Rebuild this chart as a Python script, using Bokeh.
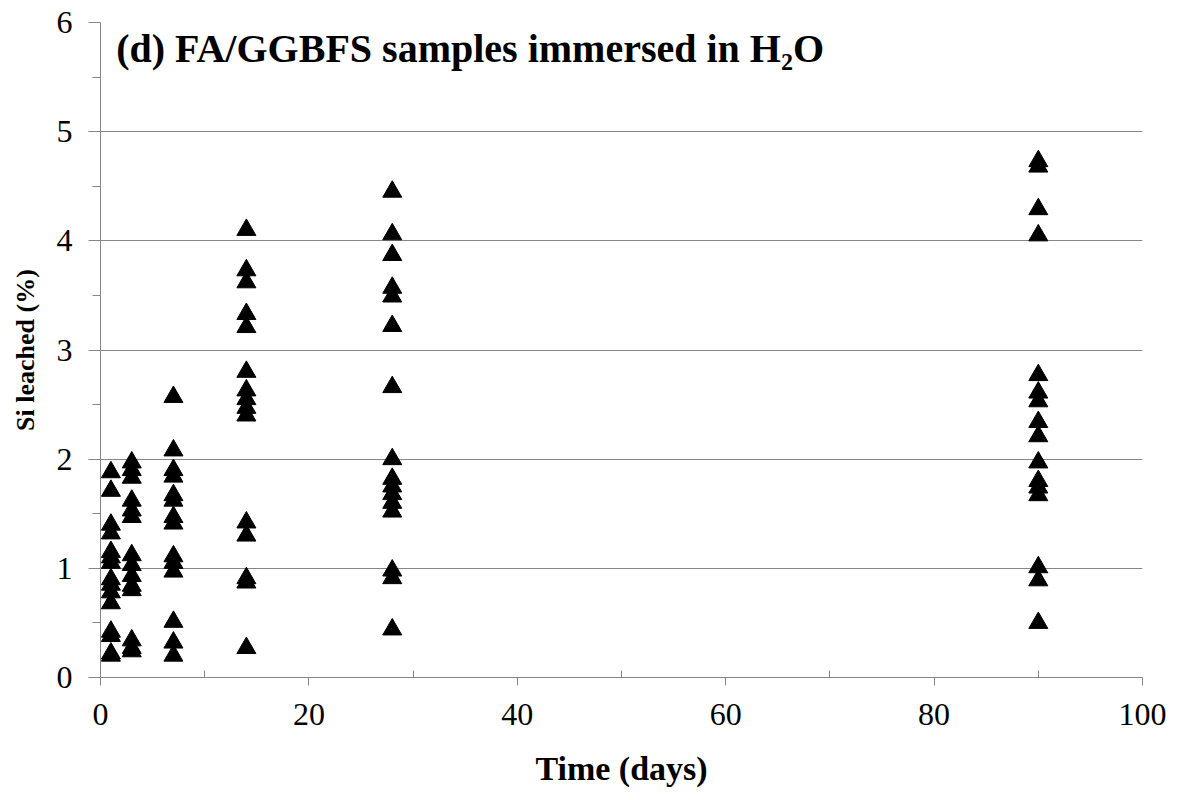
from bokeh.plotting import figure
from bokeh.models import Range1d, Label, FixedTicker
from bokeh.embed import file_html
from bokeh.resources import INLINE

days_1 = [1.88, 1.71, 1.40, 1.32, 1.15, 1.10, 1.05, 0.90, 0.85, 0.78, 0.68, 0.42, 0.38, 0.22, 0.20]
days_3 = [1.97, 1.90, 1.83, 1.62, 1.53, 1.47, 1.12, 1.03, 0.93, 0.84, 0.80, 0.34, 0.27, 0.24]
days_7 = [2.57, 2.08, 1.90, 1.84, 1.67, 1.62, 1.47, 1.41, 1.11, 1.05, 0.97, 0.51, 0.32, 0.20]
days_14 = [4.10, 3.73, 3.62, 3.33, 3.21, 2.80, 2.63, 2.55, 2.47, 2.40, 1.42, 1.30, 0.91, 0.87, 0.27]
days_28 = [4.45, 4.06, 3.87, 3.57, 3.49, 3.22, 2.66, 2.00, 1.82, 1.75, 1.68, 1.60, 1.52, 0.98, 0.91, 0.44]
days_90 = [4.73, 4.68, 4.29, 4.05, 2.77, 2.61, 2.53, 2.34, 2.21, 1.97, 1.80, 1.74, 1.67, 1.01, 0.89, 0.50]
times = [1, 3, 7, 14, 28, 90]
title_text = "(d) FA/GGBFS samples immersed in H\u2082O"
x_title = "Time (days)"
y_title = "Si leached (%)"

xs, ys = [], []
for t, vals in zip(times, [days_1, days_3, days_7, days_14, days_28, days_90]):
    xs += [t] * len(vals)
    ys += vals

FONT = "Liberation Serif"
GRAY = "#868686"

p = figure(width=1177, height=800, output_backend="svg", toolbar_location=None,
           x_range=Range1d(0, 100), y_range=Range1d(0, 6),
           min_border_left=100, min_border_right=35, min_border_top=22, min_border_bottom=123)
p.outline_line_color = None
p.background_fill_color = "white"

p.scatter(xs, ys, marker="triangle", size=19, fill_color="black", line_color="black")

p.xaxis.ticker = FixedTicker(ticks=[0, 20, 40, 60, 80, 100], minor_ticks=[10, 30, 50, 70, 90])
p.yaxis.ticker = FixedTicker(ticks=[0, 1, 2, 3, 4, 5, 6], minor_ticks=[0.5, 1.5, 2.5, 3.5, 4.5, 5.5])
p.xgrid.grid_line_color = None
p.ygrid.grid_line_color = GRAY
p.ygrid.grid_line_width = 1

for ax in (p.xaxis, p.yaxis):
    ax.axis_line_color = GRAY
    ax.major_tick_line_color = GRAY
    ax.minor_tick_line_color = GRAY
    ax.major_label_text_font = FONT
    ax.major_label_text_font_size = "32px"
    ax.major_label_text_color = "black"
    ax.axis_label_text_font = FONT
    ax.axis_label_text_font_style = "bold"
    ax.axis_label_text_color = "black"

p.xaxis.major_tick_out = 8
p.xaxis.major_tick_in = 0
p.xaxis.minor_tick_in = 7
p.xaxis.minor_tick_out = 0
p.xaxis.major_label_standoff = 18
p.xaxis.axis_label = x_title
p.xaxis.axis_label_standoff = 22
p.xaxis.axis_label_text_font_size = "34px"

p.yaxis.major_tick_out = 12
p.yaxis.major_tick_in = 0
p.yaxis.minor_tick_out = 8
p.yaxis.minor_tick_in = 0
p.yaxis.major_label_standoff = 16
p.yaxis.axis_label = y_title
p.yaxis.axis_label_standoff = 14
p.yaxis.axis_label_text_font_size = "26px"

p.add_layout(Label(x=1.5, y=5.76, text=title_text, text_font=FONT, text_font_style="bold",
                   text_font_size="40px", text_baseline="middle", text_color="black"))

open("out.html", "w").write(file_html(p, INLINE))
